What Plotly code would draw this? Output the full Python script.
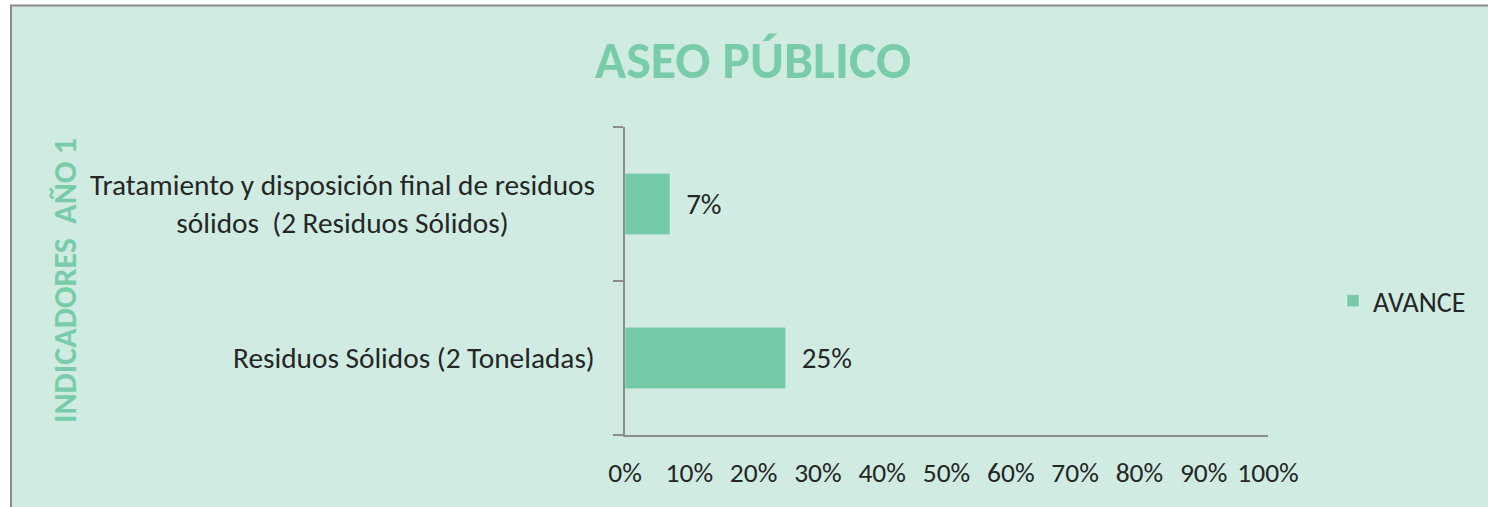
import plotly.graph_objects as go

categories = ["Residuos Sólidos (2 Toneladas)",
              "Tratamiento y disposición final de residuos<br>sólidos  (2 Residuos Sólidos)"]
avance = [0.25, 0.07]
x_ticks = [i / 10 for i in range(11)]

W, H = 1488, 507
L, R, T, B = 625, 1268, 127, 435
pw, ph = R - L, B - T

def px(xp):
    return (xp - L) / pw

def py(yp):
    return (B - yp) / ph

BG = "#D0ECE2"
GREEN = "#74C9A7"
TITLE_GREEN = "#79CCA9"
TXT = "#262626"
AXIS = "#8C8C8C"
FONT = "Carlito, Lato, sans-serif"

fig = go.Figure()
fig.add_trace(go.Bar(
    y=categories, x=avance, orientation="h", name="AVANCE",
    marker=dict(color=GREEN), width=0.4,
    texttemplate="\u00a0\u00a0%{x:.0%}", textposition="outside", cliponaxis=False,
    textfont=dict(family=FONT, size=29, color=TXT),
    hoverinfo="skip",
))

fig.update_layout(
    width=W, height=H,
    margin=dict(l=L, r=W - R, t=T, b=H - B, pad=0),
    paper_bgcolor="white", plot_bgcolor="rgba(0,0,0,0)",
    title=dict(text="<b>ASEO PÚBLICO</b>", x=753 / W, xref="container",
               y=1 - 60 / H, yref="container", xanchor="center", yanchor="middle",
               font=dict(family=FONT, size=52, color=TITLE_GREEN)),
    showlegend=True,
    legend=dict(x=px(1333), y=py(301), xanchor="left", yanchor="middle",
                bgcolor="rgba(0,0,0,0)", font=dict(family=FONT, size=28, color=TXT),
                itemwidth=30),
)

fig.update_xaxes(range=[0, 1], tickvals=x_ticks, tickformat=".0%",
                 showgrid=False, zeroline=False, showline=True,
                 linecolor=AXIS, linewidth=1.5, ticks="",
                 ticklabelstandoff=12,
                 tickfont=dict(family=FONT, size=27.5, color=TXT))
fig.update_yaxes(showgrid=False, zeroline=False, showline=True,
                 linecolor=AXIS, linewidth=1.5,
                 ticks="outside", tickson="boundaries", ticklen=10,
                 tickcolor=AXIS, tickwidth=1.5,
                 showticklabels=False, range=[-0.5, 1.5])

for cat in categories:
    fig.add_annotation(x=px(L - 28), xref="paper", y=cat, yref="y",
                       text=cat, showarrow=False, xanchor="right", yanchor="middle",
                       align="center", font=dict(family=FONT, size=29.3, color=TXT))

fig.add_annotation(x=px(65), xref="paper", y=0.5, yref="paper",
                   text="<b>INDICADORES  AÑO 1</b>", textangle=-90, showarrow=False,
                   xanchor="center", yanchor="middle",
                   font=dict(family=FONT, size=32, color=TITLE_GREEN))

fig.add_shape(type="rect", xref="paper", yref="paper", layer="below",
              x0=px(11), x1=px(W + 10), y0=py(H + 10), y1=py(5.5),
              fillcolor=BG, line=dict(color=AXIS, width=2))

fig.write_html("out.html", config={"displayModeBar": False},
               post_script="document.body.style.margin='0';")
